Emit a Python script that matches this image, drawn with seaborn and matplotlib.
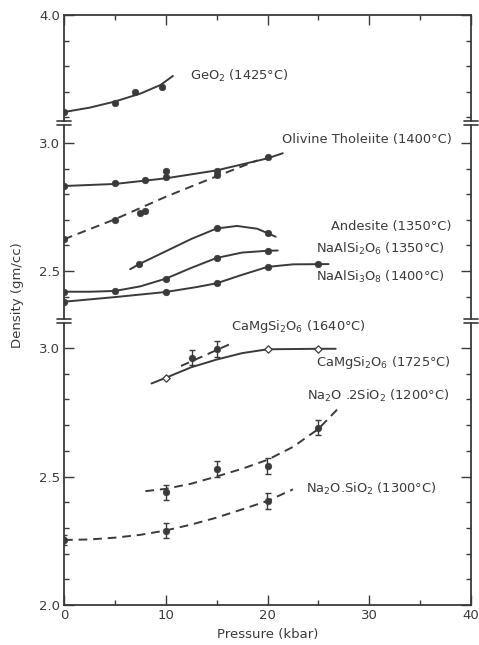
import numpy as np
import pandas as pd
import seaborn as sns
import matplotlib.pyplot as plt
from matplotlib.ticker import MultipleLocator

# --- dados (pressao em kbar, densidade em g/cc) ---

# painel de cima
geo2_p = [0, 5, 7, 9.6]
geo2_d = [3.621, 3.655, 3.700, 3.718]
geo2_curva_p = [0, 2.5, 5, 7.5, 9.5, 10.7]
geo2_curva_d = [3.621, 3.638, 3.662, 3.693, 3.727, 3.762]

# painel do meio
olivina_p = [0, 5, 8, 10, 10, 15, 20]
olivina_d = [2.832, 2.844, 2.855, 2.867, 2.890, 2.890, 2.945]
olivina_curva_p = [0, 5, 10, 15, 20, 21.5]
olivina_curva_d = [2.832, 2.840, 2.862, 2.893, 2.940, 2.960]

olivina2_p = [0, 5, 7.5, 8, 15]
olivina2_d = [2.624, 2.700, 2.728, 2.734, 2.876]
olivina2_curva_p = [0, 5, 10, 15, 19]
olivina2_curva_d = [2.624, 2.702, 2.790, 2.870, 2.932]

andesito_p = [7.4, 15, 20]
andesito_d = [2.527, 2.669, 2.647]
andesito_curva_p = [6.5, 7.4, 10, 12.5, 15, 17, 19, 20, 20.8]
andesito_curva_d = [2.507, 2.527, 2.577, 2.625, 2.666, 2.676, 2.665, 2.648, 2.634]

jadeita_p = [0, 5, 10, 15, 20]
jadeita_d = [2.419, 2.422, 2.470, 2.551, 2.579]
jadeita_curva_p = [0, 2.5, 5, 7.5, 10, 12.5, 15, 17.5, 20, 21]
jadeita_curva_d = [2.419, 2.419, 2.422, 2.440, 2.470, 2.512, 2.551, 2.572, 2.579, 2.580]

albita_p = [0, 10, 15, 20, 25]
albita_d = [2.380, 2.418, 2.452, 2.517, 2.527]
albita_curva_p = [0, 5, 10, 13, 15, 17.5, 20, 22.5, 26]
albita_curva_d = [2.380, 2.398, 2.418, 2.437, 2.452, 2.485, 2.516, 2.526, 2.527]

# painel de baixo
diop1725_p = [10, 20, 25]
diop1725_d = [2.884, 2.995, 2.996]
diop1725_curva_p = [8.6, 10, 12.5, 15, 17.5, 20, 25, 26.7]
diop1725_curva_d = [2.862, 2.884, 2.925, 2.955, 2.980, 2.995, 2.997, 2.997]

diop1640_p = [12.6, 15]
diop1640_d = [2.962, 2.996]
diop1640_err = [0.03, 0.03]
diop1640_curva_p = [11.5, 16.3]
diop1640_curva_d = [2.930, 3.015]

ns2_p = [10, 15, 20, 25]
ns2_d = [2.438, 2.529, 2.541, 2.690]
ns2_err = [0.03, 0.03, 0.03, 0.03]
ns2_curva_p = [8, 10, 12.5, 15, 17.5, 20, 22.5, 25, 27.2]
ns2_curva_d = [2.443, 2.452, 2.472, 2.500, 2.530, 2.565, 2.615, 2.685, 2.775]

ns_p = [0, 10, 20]
ns_d = [2.253, 2.289, 2.405]
ns_err = [0.02, 0.03, 0.03]
ns_curva_p = [0, 2.5, 5, 7.5, 10, 12.5, 15, 17.5, 20, 22.5]
ns_curva_d = [2.253, 2.255, 2.262, 2.273, 2.290, 2.313, 2.340, 2.372, 2.405, 2.450]

COR = '#3a3a3a'
TRACO = (0, (4.5, 3))

sns.set_theme(style='ticks')
plt.rcParams['font.family'] = ['DejaVu Sans']
plt.rcParams['text.color'] = COR
plt.rcParams['axes.labelcolor'] = COR
plt.rcParams['xtick.color'] = COR
plt.rcParams['ytick.color'] = COR
plt.rcParams['mathtext.default'] = 'regular'

W, H = 479, 645
fig = plt.figure(figsize=(W / 100, H / 100), dpi=100)


def eixo_px(esq, topo, dir, base):
    return fig.add_axes([esq / W, 1 - base / H, (dir - esq) / W, (base - topo) / H])


ax_top = eixo_px(64, 15, 471, 121)
ax_mid = eixo_px(64, 125, 471, 319)
ax_bot = eixo_px(64, 323, 471, 605)

ax_top.set_ylim(3.586, 4.0)
ax_mid.set_ylim(2.3125, 3.0703)
ax_bot.set_ylim(2.0, 3.0973)


def curva(ax, p, d, tracejada=False):
    ls = TRACO if tracejada else '-'
    sns.lineplot(x=p, y=d, ax=ax, color=COR, linewidth=1.4, linestyle=ls,
                 estimator=None, sort=False)


def pontos(ax, p, d, aberto=False):
    if aberto:
        sns.scatterplot(x=p, y=d, ax=ax, marker='D', s=14, color='white',
                        edgecolor=COR, linewidth=0.9, zorder=5)
    else:
        sns.scatterplot(x=p, y=d, ax=ax, marker='o', s=22, color=COR,
                        edgecolor=COR, linewidth=0.5, zorder=5)


def barras(ax, p, d, e):
    ax.errorbar(p, d, yerr=e, fmt='none', ecolor=COR, elinewidth=1.0,
                capsize=2.0, capthick=1.0, zorder=4)


# painel de cima
curva(ax_top, geo2_curva_p, geo2_curva_d)
pontos(ax_top, geo2_p, geo2_d)

# painel do meio
curva(ax_mid, olivina_curva_p, olivina_curva_d)
pontos(ax_mid, olivina_p, olivina_d)
curva(ax_mid, olivina2_curva_p, olivina2_curva_d, tracejada=True)
pontos(ax_mid, olivina2_p, olivina2_d)
curva(ax_mid, andesito_curva_p, andesito_curva_d)
pontos(ax_mid, andesito_p, andesito_d)
curva(ax_mid, jadeita_curva_p, jadeita_curva_d)
pontos(ax_mid, jadeita_p, jadeita_d)
curva(ax_mid, albita_curva_p, albita_curva_d)
pontos(ax_mid, albita_p, albita_d)

# painel de baixo
curva(ax_bot, diop1725_curva_p, diop1725_curva_d)
pontos(ax_bot, diop1725_p, diop1725_d, aberto=True)
curva(ax_bot, diop1640_curva_p, diop1640_curva_d, tracejada=True)
barras(ax_bot, diop1640_p, diop1640_d, diop1640_err)
pontos(ax_bot, diop1640_p, diop1640_d)
curva(ax_bot, ns2_curva_p, ns2_curva_d, tracejada=True)
barras(ax_bot, ns2_p, ns2_d, ns2_err)
pontos(ax_bot, ns2_p, ns2_d)
curva(ax_bot, ns_curva_p, ns_curva_d, tracejada=True)
barras(ax_bot, ns_p, ns_d, ns_err)
pontos(ax_bot, ns_p, ns_d)

# rotulos das curvas
fs = 9.4
ax_top.text(12.4, 3.762, 'GeO$_2$ (1425°C)', fontsize=fs, va='center')
ax_mid.text(21.4, 3.012, 'Olivine Tholeiite (1400°C)', fontsize=fs, va='center')
ax_mid.text(26.2, 2.672, 'Andesite (1350°C)', fontsize=fs, va='center')
ax_mid.text(24.8, 2.585, 'NaAlSi$_2$O$_6$ (1350°C)', fontsize=fs, va='center')
ax_mid.text(24.8, 2.476, 'NaAlSi$_3$O$_8$ (1400°C)', fontsize=fs, va='center')
ax_bot.text(16.4, 3.082, 'CaMgSi$_2$O$_6$ (1640°C)', fontsize=fs, va='center')
ax_bot.text(24.8, 2.945, 'CaMgSi$_2$O$_6$ (1725°C)', fontsize=fs, va='center')
ax_bot.text(23.9, 2.815, 'Na$_2$O .2SiO$_2$ (1200°C)', fontsize=fs, va='center')
ax_bot.text(23.8, 2.452, 'Na$_2$O.SiO$_2$ (1300°C)', fontsize=fs, va='center')

# eixos
for ax in (ax_top, ax_mid, ax_bot):
    ax.set_xlim(0, 40)
    ax.xaxis.set_major_locator(MultipleLocator(10))
    ax.xaxis.set_minor_locator(MultipleLocator(5))
    ax.yaxis.set_major_locator(MultipleLocator(0.5))
    ax.yaxis.set_minor_locator(MultipleLocator(0.1))
    ax.yaxis.set_major_formatter(plt.FuncFormatter(lambda v, pos: f'{v:.1f}'))
    ax.tick_params(which='both', direction='in', color=COR, width=1.0,
                   labelsize=9.5, right=True, pad=3)
    ax.tick_params(which='major', length=7)
    ax.tick_params(which='minor', length=3.5)
    for lado in ax.spines.values():
        lado.set_color(COR)
        lado.set_linewidth(1.3)
    ax.set_xlabel('')
    ax.set_ylabel('')

ax_top.tick_params(which='both', top=True, bottom=False, labelbottom=False)
ax_top.spines['bottom'].set_visible(False)
ax_mid.tick_params(which='both', top=False, bottom=False, labelbottom=False)
ax_mid.spines['top'].set_visible(False)
ax_mid.spines['bottom'].set_visible(False)
ax_bot.spines['top'].set_visible(False)
ax_bot.tick_params(which='both', top=False, bottom=True, labelbottom=True)
ax_bot.set_xlabel('Pressure (kbar)', fontsize=9.5, labelpad=4)
fig.text(18 / W, 1 - 295 / H, 'Density (gm/cc)', rotation=90, fontsize=9.5,
         ha='center', va='center', color=COR)

# marcas de quebra do eixo
for ax, ys in ((ax_top, [0]), (ax_mid, [0, 1]), (ax_bot, [1])):
    for y in ys:
        for x in (0, 1):
            ax.plot([x - 0.016, x + 0.016], [y, y], transform=ax.transAxes,
                    color=COR, linewidth=1.2, clip_on=False)

fig.savefig('out.png', dpi=100, facecolor='white')
